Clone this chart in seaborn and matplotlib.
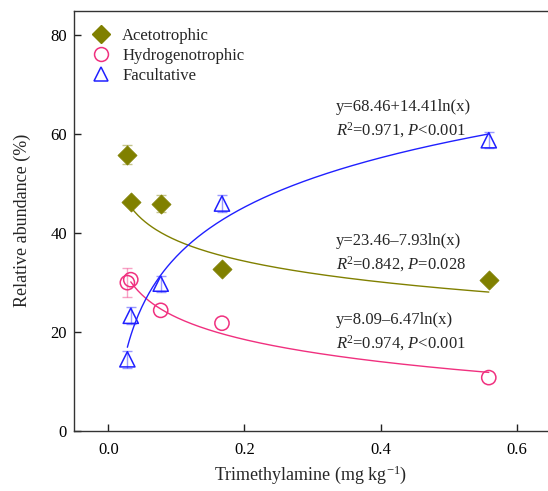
import numpy as np
import pandas as pd
import matplotlib
matplotlib.use("Agg")
import matplotlib.pyplot as plt
import seaborn as sns
from matplotlib.lines import Line2D

# ---- data ----
x_tma = [0.028, 0.033, 0.077, 0.167, 0.559]
aceto = [55.9, 46.3, 46.0, 32.7, 30.6]
aceto_err = [2.0, 0.0, 1.8, 0.0, 0.0]
hydro = [30.0, 30.6, 24.4, 21.8, 10.8]
hydro_err = [2.9, 0.0, 0.0, 0.0, 0.0]
facul = [14.5, 23.3, 29.8, 46.0, 58.8]
facul_err = [1.7, 1.7, 1.6, 1.8, 1.6]

series_names = ["Acetotrophic", "Hydrogenotrophic", "Facultative"]
# fitted curves y = a + b ln(x) as drawn in the reference
curve_a = [24.56, 8.09, 68.46]
curve_b = [-6.08, -6.47, 14.41]
curve_x0 = [0.033, 0.033, 0.028]
curve_x1 = [0.559, 0.559, 0.559]
fit_text = ["y=23.46\u20137.93ln(x)", "y=8.09\u20136.47ln(x)", "y=68.46+14.41ln(x)"]
fit_stats = [r"$\it{R}$$^2$=0.842, $\it{P}$=0.028",
             r"$\it{R}$$^2$=0.974, $\it{P}$<0.001",
             r"$\it{R}$$^2$=0.971, $\it{P}$<0.001"]
fit_text_y = [240.7, 320.0, 107.0]  # reference pixel rows (converted below)

olive = "#808000"
pink = "#f0307f"
blue = "#2020ff"
colors = [olive, pink, blue]
markers = ["D", "o", "^"]

sns.set_theme(style="ticks")
plt.rcParams["font.family"] = ["Liberation Serif", "DejaVu Serif"]
plt.rcParams["mathtext.fontset"] = "custom"
plt.rcParams["mathtext.rm"] = "Liberation Serif"
plt.rcParams["mathtext.it"] = "Liberation Serif:italic"

fig = plt.figure(figsize=(5.48, 4.91), dpi=100)
W, H = 548, 491
ax = fig.add_axes([74 / W, (H - 431) / H, 474 / W, (431 - 10.7) / H])

ys = [aceto, hydro, facul]
errs = [aceto_err, hydro_err, facul_err]

# curves
for i in range(3):
    xc = np.linspace(curve_x0[i], curve_x1[i], 200)
    yc = curve_a[i] + curve_b[i] * np.log(xc)
    sns.lineplot(x=xc, y=yc, ax=ax, color=colors[i], lw=1.0, zorder=2)

# error bars (only where an error bar is visible)
for i in range(3):
    e = np.asarray(errs[i])
    m = e > 0
    if m.any():
        ax.errorbar(np.asarray(x_tma)[m], np.asarray(ys[i])[m], yerr=e[m], fmt="none",
                    ecolor=colors[i], alpha=0.45, elinewidth=1.0, capsize=3.5,
                    capthick=1.0, zorder=3)

# points
sizes = [95, 105, 120]
for i in range(3):
    df = pd.DataFrame({"x": x_tma, "y": ys[i]})
    if i == 0:
        sns.scatterplot(data=df, x="x", y="y", ax=ax, marker=markers[i], s=sizes[i],
                        color=colors[i], edgecolor=colors[i], linewidth=0.5, zorder=4)
    else:
        sns.scatterplot(data=df, x="x", y="y", ax=ax, marker=markers[i], s=sizes[i],
                        facecolor="none", edgecolor=colors[i], linewidth=1.1, zorder=4)

ax.set_xlim(-0.0504, 0.646)
ax.set_ylim(0, 85)
ax.set_xticks([0.0, 0.2, 0.4, 0.6])
ax.set_xticklabels(["0.0", "0.2", "0.4", "0.6"])
ax.set_yticks([0, 20, 40, 60, 80])
ax.tick_params(direction="in", length=5, width=1.0, labelsize=12, colors="#222222",
               labelcolor="black")
ax.tick_params(axis="x", pad=8)
ax.tick_params(axis="y", pad=5)
ax.spines["right"].set_visible(False)
for s in ["left", "top", "bottom"]:
    ax.spines[s].set_linewidth(1.0)
    ax.spines[s].set_color("#333333")

ax.set_xlabel("Trimethylamine (mg kg$^{-1}$)", fontsize=13, labelpad=4)
ax.set_ylabel("Relative abundance (%)", fontsize=13, labelpad=14)

# annotations: convert pixel rows to data
def py2y(py):
    return (431 - py) / ((431 - 10.7) / 85)

def px2x(px):
    return (px - 108.3) / 681.0

for i in range(3):
    ax.text(px2x(336), py2y(fit_text_y[i]), fit_text[i], fontsize=12,
            va="center", ha="left")
    ax.text(px2x(336), py2y(fit_text_y[i] + 23), fit_stats[i], fontsize=12,
            va="center", ha="left")

handles = []
for i in range(3):
    if i == 0:
        h = Line2D([], [], ls="none", marker=markers[i], markersize=9,
                   color=colors[i], markeredgecolor=colors[i])
    else:
        h = Line2D([], [], ls="none", marker=markers[i], markersize=10,
                   markerfacecolor="none", markeredgecolor=colors[i], markeredgewidth=1.1)
    handles.append(h)
leg = ax.legend(handles, series_names, loc="upper left", frameon=False, fontsize=12,
                bbox_to_anchor=(-0.002, 0.995), handletextpad=0.55, labelspacing=0.25,
                borderaxespad=0.5, handlelength=1.5)

fig.savefig("out.png", dpi=100)
